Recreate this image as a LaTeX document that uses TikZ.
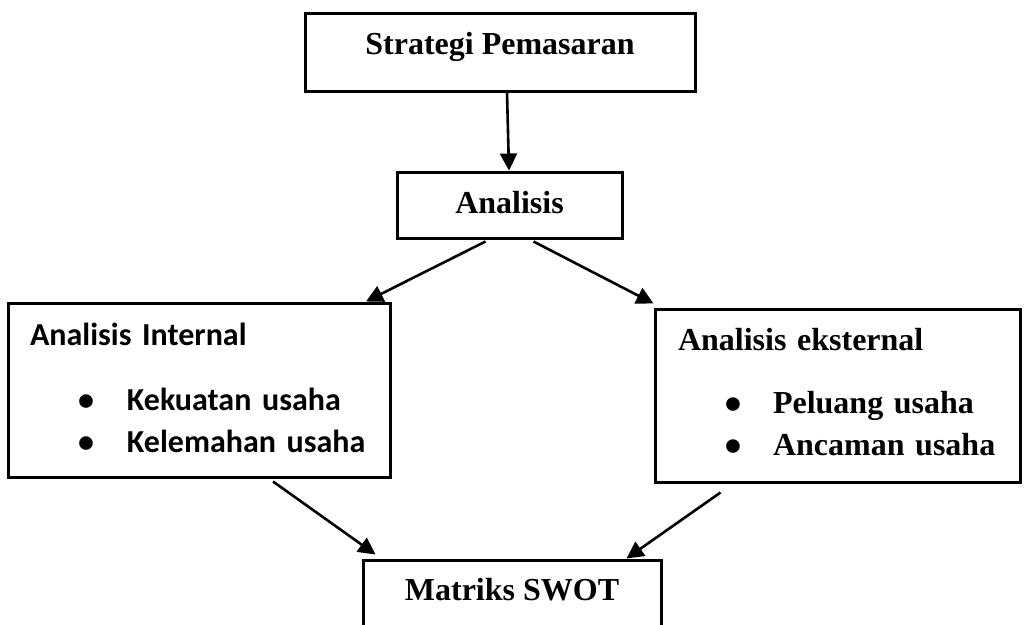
\documentclass[tikz,border=0pt]{standalone}
\usepackage{fontspec}
\setmainfont{Liberation Serif}
\newfontfamily\calibrifont{Carlito}
\usetikzlibrary{arrows.meta}

\begin{document}
\begin{tikzpicture}[x=1pt,y=-1pt]

        % Define box and arrow styles
        \tikzstyle{box} = [rectangle, draw, line width=3pt, inner xsep=0pt, inner ysep=0pt, font=\fontsize{32}{42}\selectfont\bfseries]
        \tikzstyle{arrow} = [line width=2.6pt, -{Triangle[length=17pt,width=17pt]}]

        \useasboundingbox (0,0) rectangle (1027,624);

        % Top boxes
        \node[box, minimum width=390pt, text height=41pt, text depth=37pt] (strategi) at (500,52) {Strategi Pemasaran};
        \node[box, minimum width=225pt, text height=41pt, text depth=25pt] (analisis) at (509.5,205) {Analisis};

        % Internal and external analysis
        \node[box, text width=338pt, inner xsep=22pt, align=left, text height=42pt, text depth=132pt,
              font=\fontsize{32}{42}\selectfont\calibrifont\bfseries] (internal) at (199,390)
            {Analisis Internal\\[23pt]
             \hspace*{48pt}\makebox[49pt][l]{•}Kekuatan usaha\\
             \hspace*{48pt}\makebox[49pt][l]{•}Kelemahan usaha};
        \node[box, text width=319pt, inner xsep=23pt, align=left, text height=41pt, text depth=132pt] (eksternal) at (837.5,395.5)
            {Analisis eksternal\\[21pt]
             \hspace*{47pt}\makebox[48pt][l]{\calibrifont•}Peluang usaha\\
             \hspace*{47pt}\makebox[48pt][l]{\calibrifont•}Ancaman usaha};

        % Result
        \node[box, minimum width=298pt, text height=40pt, text depth=44pt] (swot) at (512,602) {Matriks SWOT};

        % Draw arrows
        \draw[arrow] ([xshift=7pt]strategi.south) -- ([xshift=-0.5pt]analisis.north);
        \draw[arrow] ([xshift=-24pt,yshift=-2pt]analisis.south) -- ([xshift=167pt]internal.north);
        \draw[arrow] ([xshift=24pt,yshift=-2pt]analisis.south) -- ([yshift=4pt]eksternal.north west);
        \draw[arrow] ([xshift=74pt,yshift=-3pt]internal.south) -- ([xshift=14pt,yshift=4pt]swot.north west);
        \draw[arrow] ([xshift=-117pt,yshift=-9pt]eksternal.south) -- ([xshift=-36pt]swot.north east);

\end{tikzpicture}
\end{document}
